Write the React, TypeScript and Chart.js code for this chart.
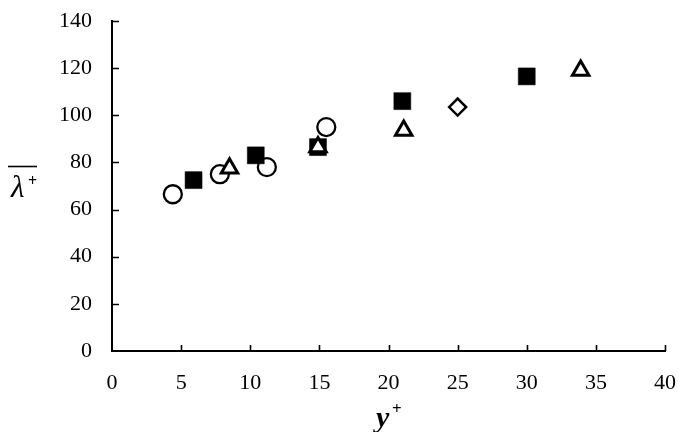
import React, { useEffect, useRef } from "react";
import { Chart, registerables } from "chart.js";

Chart.register(...registerables);

// Data
const circleX = [4.4, 7.8, 11.2, 15.5];
const circleY = [66.5, 75, 78, 95];
const squareX = [5.9, 10.4, 14.9, 21.0, 30.0];
const squareY = [72.5, 83, 86.5, 106, 116.5];
const triangleX = [8.5, 14.9, 21.1, 33.9];
const triangleY = [77.5, 86.5, 93.5, 119];
const diamondX = [25.0];
const diamondY = [103.5];

const xTickValues = [0, 5, 10, 15, 20, 25, 30, 35, 40];
const yTickValues = [0, 20, 40, 60, 80, 100, 120, 140];

const xTitle = "y";
const yTitle = "λ";
const titleSup = "+";

const FONT = "'Liberation Serif', 'Times New Roman', serif";

const zip = (xs: number[], ys: number[]) => xs.map((x, i) => ({ x, y: ys[i] }));

const axisDecor = {
  id: "axisDecor",
  afterDraw(chart: any) {
    const ctx = chart.ctx as CanvasRenderingContext2D;
    const xs = chart.scales.x;
    const ys = chart.scales.y;
    ctx.save();
    ctx.strokeStyle = "#000";
    ctx.lineWidth = 1.6;
    ctx.beginPath();
    for (const v of xTickValues) {
      if (v === 0) continue;
      const px = Math.round(xs.getPixelForValue(v)) + 0.5;
      ctx.moveTo(px, ys.bottom);
      ctx.lineTo(px, ys.bottom - 6);
    }
    for (const v of yTickValues) {
      if (v === 0) continue;
      const py = Math.round(ys.getPixelForValue(v)) + 0.5;
      ctx.moveTo(xs.left, py);
      ctx.lineTo(xs.left + 7, py);
    }
    ctx.stroke();

    // x axis title: y+
    ctx.fillStyle = "#000";
    ctx.textBaseline = "alphabetic";
    ctx.textAlign = "left";
    ctx.font = `italic bold 30px ${FONT}`;
    ctx.fillText(xTitle, 376, 427);
    ctx.font = `bold 17px ${FONT}`;
    ctx.fillText(titleSup, 392, 414);

    // y axis title: overline lambda+
    ctx.font = `italic 31px ${FONT}`;
    ctx.fillText(yTitle, 11, 197);
    ctx.font = `bold 16px ${FONT}`;
    ctx.fillText(titleSup, 28, 186);
    ctx.lineWidth = 1.6;
    ctx.beginPath();
    ctx.moveTo(8, 166.5);
    ctx.lineTo(37, 166.5);
    ctx.stroke();
    ctx.restore();
  },
};

export default function App() {
  const ref = useRef<HTMLCanvasElement | null>(null);

  useEffect(() => {
    if (!ref.current) return;
    const chart = new Chart(ref.current, {
      type: "scatter",
      data: {
        datasets: [
          {
            label: "triangle",
            data: zip(triangleX, triangleY),
            pointStyle: "triangle",
            pointRadius: 9.5,
            borderWidth: 3,
            borderColor: "#000",
            backgroundColor: "#fff",
            order: 0,
          },
          {
            label: "diamond",
            data: zip(diamondX, diamondY),
            pointStyle: "rectRot",
            pointRadius: 8.5,
            borderWidth: 2.5,
            borderColor: "#000",
            backgroundColor: "#fff",
            order: 1,
          },
          {
            label: "square",
            data: zip(squareX, squareY),
            pointStyle: "rect",
            pointRadius: 12,
            borderWidth: 0.5,
            borderColor: "#000",
            backgroundColor: "#000",
            order: 2,
          },
          {
            label: "circle",
            data: zip(circleX, circleY),
            pointStyle: "circle",
            pointRadius: 9,
            borderWidth: 2.3,
            borderColor: "#000",
            backgroundColor: "#fff",
            order: 3,
          },
        ],
      },
      options: {
        responsive: false,
        animation: false,
        events: [],
        layout: { padding: { top: 21, right: 13, bottom: 0, left: 0 } },
        plugins: {
          legend: { display: false },
          tooltip: { enabled: false },
        },
        scales: {
          x: {
            type: "linear",
            min: 0,
            max: 40,
            afterFit: (s: any) => {
              s.height = 81;
              s.paddingLeft = 0;
              s.paddingRight = 0;
            },
            afterBuildTicks: (s: any) => {
              s.ticks = xTickValues.map((v) => ({ value: v }));
            },
            grid: { display: false, drawTicks: false },
            border: { display: true, color: "#000", width: 2 },
            ticks: {
              color: "#000",
              padding: 19,
              maxRotation: 0,
              font: { family: FONT, size: 22 },
            },
          },
          y: {
            type: "linear",
            min: 0,
            max: 140,
            afterFit: (s: any) => {
              s.width = 112;
              s.paddingTop = 0;
              s.paddingBottom = 0;
            },
            afterBuildTicks: (s: any) => {
              s.ticks = yTickValues.map((v) => ({ value: v }));
            },
            grid: { display: false, drawTicks: false },
            border: { display: true, color: "#000", width: 2 },
            ticks: {
              color: "#000",
              padding: 20,
              font: { family: FONT, size: 22 },
            },
          },
        },
      },
      plugins: [axisDecor],
    });
    return () => chart.destroy();
  }, []);

  return (
    <div style={{ position: "absolute", left: 0, top: 0, width: 678, height: 432, background: "#fff" }}>
      <canvas ref={ref} width={678} height={432} style={{ display: "block" }} />
    </div>
  );
}
